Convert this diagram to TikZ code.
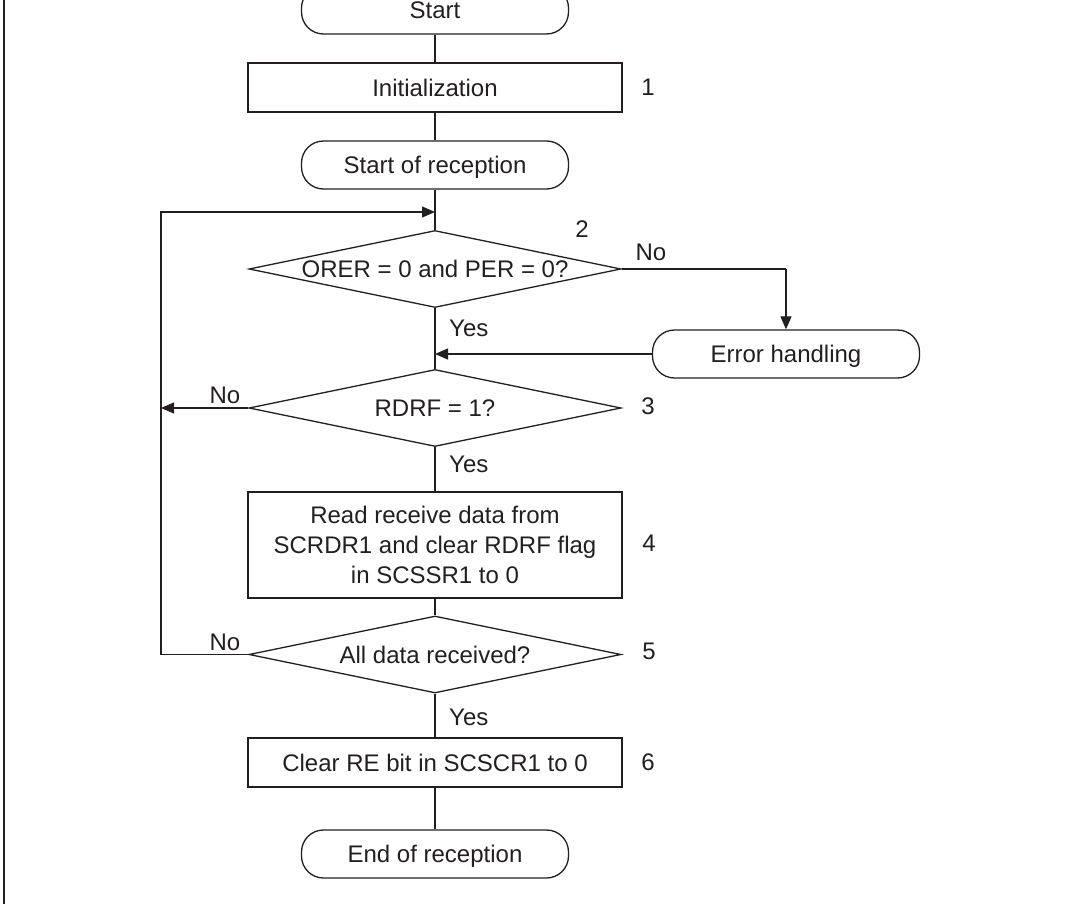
\documentclass[tikz,border=0pt]{standalone}
\usepackage{fontspec}
\setmainfont{Liberation Sans}
\usetikzlibrary{arrows.meta,shapes.geometric}
\definecolor{ink}{HTML}{231F20}
\tikzset{
  base/.style={draw=ink, line width=1.3pt, text=ink, font=\fontsize{24}{30}\selectfont, inner sep=0pt},
  capc/.style={text height=17.2pt, text depth=0pt},
  term/.style={base, capc, rectangle, rounded corners=22pt, minimum width=267pt, minimum height=48pt},
  proc/.style={base, rectangle, minimum width=374pt, minimum height=49pt, align=center},
  dec/.style={base, diamond, minimum width=372pt, minimum height=77pt, aspect=1},
  lbl/.style={text=ink, font=\fontsize{24}{30}\selectfont, inner sep=0pt, capc},
  line/.style={draw=ink, line width=1.3pt},
  arr/.style={line, -{Triangle[length=13pt,width=11pt]}}
}
\begin{document}
\begin{tikzpicture}[x=1pt,y=-1pt]
\useasboundingbox (0,0) rectangle (1069,904);
\fill[white] (0,0) rectangle (1069,904);
\begin{scope}
\clip (0,0) rectangle (1069,904);
\draw[line] (4,-5) -- (4,910);

\node[term] (start) at (435,10) {Start};
\node[proc, capc] (init) at (435,87.5) {Initialization};
\node[lbl] (n1) at (648,87) {1};
\node[term] (sor) at (435,165) {Start of reception};
\coordinate (j1) at (435,212);
\node[dec] (d1) at (435,269) {};
\node[lbl] at (d1.center) {ORER = 0 and PER = 0?};
\node[lbl] (n2) at (582,229) {2};
\node[lbl] (no1) at (651,252) {No};
\coordinate (c1) at (786,269);
\node[term] (err) at (786,354) {Error handling};
\node[lbl, anchor=west] (yes1) at (449,328) {Yes};
\coordinate (j2) at (435,354);
\node[dec] (d2) at (435,408) {};
\node[lbl] at (d2.center) {RDRF = 1?};
\node[lbl] (no2) at (225,395) {No};
\node[lbl] (n3) at (648,406) {3};
\coordinate (l2) at (161,408);
\node[lbl, anchor=west] (yes2) at (449,464) {Yes};
\node[proc, minimum height=106pt] (read) at (435,545) {Read receive data from\\SCRDR1 and clear RDRF flag\\in SCSSR1 to 0};
\node[lbl] (n4) at (649,543) {4};
\node[dec] (d3) at (435,654.5) {};
\node[lbl] at (d3.center) {All data received?};
\node[lbl] (no3) at (225,642) {No};
\node[lbl] (n5) at (649,651) {5};
\coordinate (l3) at (161,654.5);
\coordinate (l1) at (161,212);
\node[lbl, anchor=west] (yes3) at (449,717) {Yes};
\node[proc, capc] (clr) at (435,762.5) {Clear RE bit in SCSCR1 to 0};
\node[lbl] (n6) at (648,762) {6};
\node[term] (end) at (435,854) {End of reception};

\draw[line] (start) -- (init);
\draw[line] (init) -- (sor);
\draw[line] (sor) -- (d1.north);
\draw[line] (d1.east) -- (c1);
\draw[arr] (c1) -- (err.north);
\draw[arr] (err.west) -- (j2);
\draw[line] (d1.south) -- (d2.north);
\draw[arr] (d2.west) -- (l2);
\draw[line] (d2.south) -- (read.north);
\draw[line] (read.south) -- (d3.north);
\draw[arr] (d3.west) -- (l3) -- (l1) -- (j1);
\draw[line] (d3.south) -- (clr.north);
\draw[line] (clr) -- (end);
\end{scope}
\end{tikzpicture}
\end{document}
